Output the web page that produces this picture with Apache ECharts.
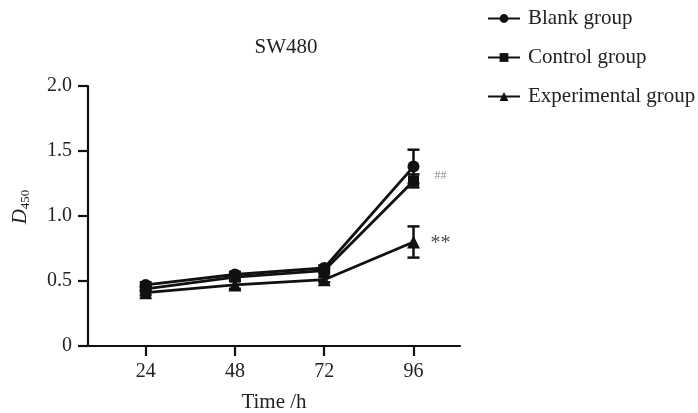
<!DOCTYPE html>
<html><head><meta charset="utf-8">
<script src="https://cdn.jsdelivr.net/npm/echarts@6/dist/echarts.min.js"></script>
<style>html,body{margin:0;padding:0;background:#fff}#c{width:698px;height:413px}</style>
</head><body><div id="c"></div>
<script>
const times = [24, 48, 72, 96];
const seriesNames = ['Blank group', 'Control group', 'Experimental group'];
const blank = [0.47, 0.55, 0.60, 1.38];
const control = [0.44, 0.53, 0.58, 1.27];
const experimental = [0.41, 0.47, 0.51, 0.80];
const blankErr = [0.02, 0.02, 0.02, 0.13];
const controlErr = [0.02, 0.02, 0.02, 0.05];
const experimentalErr = [0.02, 0.03, 0.02, 0.12];
const annotations = [
  {x: 96, y: 1.31, text: '##'},
  {x: 96, y: 0.785, text: '**'}
];

const font = 'Liberation Serif, Times New Roman, serif';
const chart = echarts.init(document.getElementById('c'));

function pairs(vals){ return vals.map((v,i)=>[times[i], v]); }
function errData(vals, errs){ return vals.map((v,i)=>[times[i], v-errs[i], v+errs[i]]); }

function errSeries(vals, errs){
  return {
    type: 'custom', silent: true, z: 1,
    data: errData(vals, errs),
    renderItem: function(params, api){
      const x = api.value(0);
      const lo = api.coord([x, api.value(1)]);
      const hi = api.coord([x, api.value(2)]);
      const w = 6;
      const st = {stroke: '#111', lineWidth: 2.5};
      return {type: 'group', children: [
        {type: 'line', shape: {x1: lo[0], y1: lo[1], x2: hi[0], y2: hi[1]}, style: st},
        {type: 'line', shape: {x1: lo[0]-w, y1: lo[1], x2: lo[0]+w, y2: lo[1]}, style: st},
        {type: 'line', shape: {x1: hi[0]-w, y1: hi[1], x2: hi[0]+w, y2: hi[1]}, style: st}
      ]};
    }
  };
}

function lineSeries(name, vals, symbol, size){
  return {
    name: name, type: 'line', data: pairs(vals), symbol: symbol, symbolSize: size,
    z: 3,
    lineStyle: {color: '#111', width: 2.8},
    itemStyle: {color: '#111'}
  };
}

const option = {
  backgroundColor: '#fff',
  animation: false,
  title: {
    text: 'SW480', left: 281, top: 32, textAlign: 'center',
    textStyle: {fontFamily: font, fontSize: 21, fontWeight: 'normal', color: '#222'}
  },
  legend: {
    orient: 'vertical', left: 482, top: 3, itemGap: 18,
    itemWidth: 32, itemHeight: 11,
    data: seriesNames,
    textStyle: {fontFamily: font, fontSize: 21, color: '#222', padding: [0, 0, 0, 3]}
  },
  grid: {left: 88, right: 238, top: 86, bottom: 67, outerBoundsMode: 'none', containLabel: false},
  xAxis: {
    type: 'value', min: 8.5, max: 108.5,
    name: 'Time /h', nameLocation: 'middle', nameGap: 46,
    nameTextStyle: {fontFamily: font, fontSize: 21, color: '#222'},
    axisLine: {lineStyle: {color: '#111', width: 2.2}},
    axisTick: {length: 10, lineStyle: {width: 2.2, color: '#111'}, customValues: times},
    axisLabel: {customValues: times, fontFamily: font, fontSize: 20, color: '#222', margin: 16},
    splitLine: {show: false}
  },
  yAxis: {
    type: 'value', min: 0, max: 2, interval: 0.5,
    name: '{d|D}{s|450}', nameLocation: 'middle', nameGap: 56, nameRotate: 90,
    nameTextStyle: {
      padding: [0, 0, 0, 18],
      rich: {
        d: {fontFamily: font, fontSize: 21, fontStyle: 'italic', color: '#222'},
        s: {fontFamily: font, fontSize: 13, color: '#222', verticalAlign: 'bottom', padding: [10,0,0,0]}
      }
    },
    axisLine: {show: true, lineStyle: {color: '#111', width: 2.2}},
    axisTick: {show: true, length: 10, lineStyle: {width: 2.2, color: '#111'}},
    axisLabel: {
      fontFamily: font, fontSize: 20, color: '#222', margin: 16,
      formatter: v => v === 0 ? '0' : v.toFixed(1)
    },
    splitLine: {show: false}
  },
  series: [
    errSeries(blank, blankErr),
    errSeries(control, controlErr),
    errSeries(experimental, experimentalErr),
    lineSeries(seriesNames[0], blank, 'circle', 12),
    lineSeries(seriesNames[1], control, 'rect', 11),
    lineSeries(seriesNames[2], experimental, 'triangle', 13),
    {
      type: 'scatter', silent: true, symbolSize: 0,
      data: annotations.map(a => ({value: [a.x, a.y], label: {formatter: a.text}})),
      label: {
        show: true, position: 'right', distance: 0, offset: [17, 0],
        fontFamily: font, fontSize: 20, color: '#222'
      }
    }
  ]
};
option.series[6].data[0].label.fontSize = 12;
option.series[6].data[0].label.color = '#777';
option.series[6].data[0].label.offset = [21, 0];
chart.setOption(option);
</script></body></html>
